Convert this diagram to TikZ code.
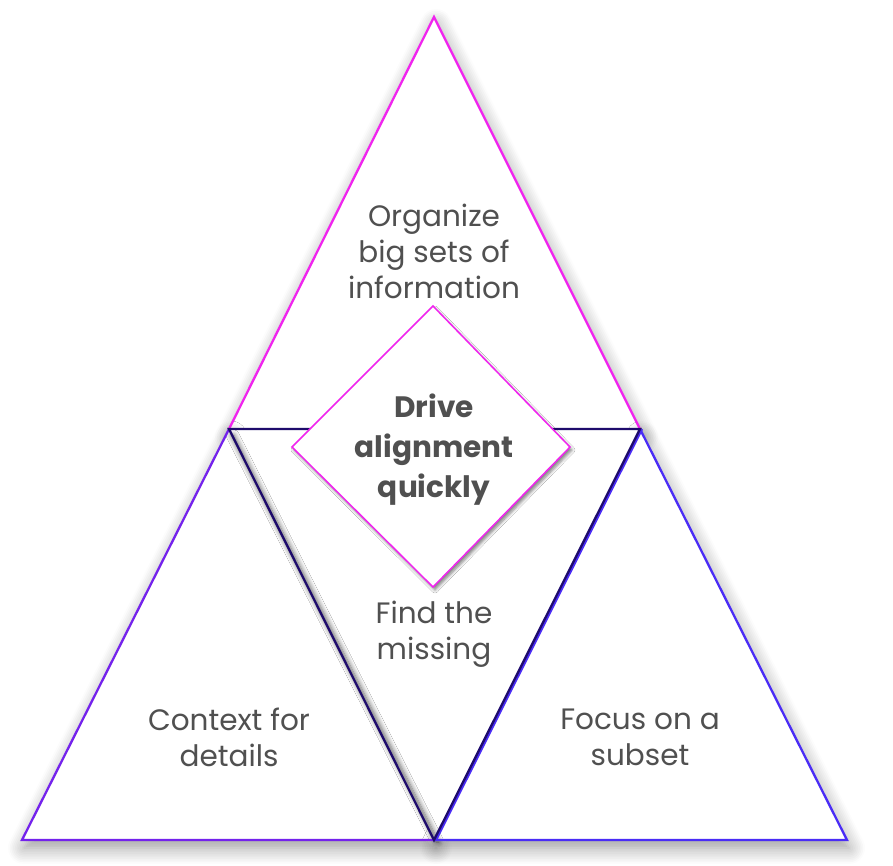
\documentclass[tikz,border=0pt]{standalone}
\usepackage{fontspec}
\setmainfont{Poppins}
\usetikzlibrary{shadows.blur}
\definecolor{magtop}{HTML}{F024EE}
\definecolor{purpleleft}{HTML}{7422EC}
\definecolor{blueright}{HTML}{4A2CF6}
\definecolor{navymid}{HTML}{1E0B6C}
\definecolor{txtgray}{HTML}{505050}
\tikzset{
  tri/.style={line width=2.3pt, line join=miter},
  triShadow/.style={fill=white, blur shadow={shadow blur steps=10, shadow xshift=2pt, shadow yshift=-8pt, shadow blur radius=16pt, shadow opacity=40}},
  lbl/.style={align=center, text=txtgray, font=\fontsize{29.5}{36}\selectfont, inner sep=0pt},
  blbl/.style={align=center, text=txtgray, font=\fontsize{29.5}{40}\selectfont\bfseries, inner sep=0pt},
  diam/.style={fill=white, draw=magtop, line width=1.5pt, blur shadow={shadow blur steps=5, shadow xshift=2pt, shadow yshift=-3pt, shadow blur radius=3pt, shadow opacity=50}}
}
\begin{document}
\begin{tikzpicture}[x=1pt,y=-1pt]
\useasboundingbox (0,0) rectangle (893,865);
% vertices
\coordinate (A) at (434,17);
\coordinate (L) at (229,429);
\coordinate (R) at (640,429);
\coordinate (BL) at (22,840);
\coordinate (BM) at (434,840);
\coordinate (BR) at (847,840);
% shadows and fills
\path[triShadow] (A) -- (L) -- (R) -- cycle;
\path[triShadow] (L) -- (BL) -- (BM) -- cycle;
\path[triShadow] (R) -- (BM) -- (BR) -- cycle;
\path[fill=white] (L) -- (R) -- (BM) -- cycle;
\path[blur shadow={shadow blur steps=8, shadow xshift=5pt, shadow yshift=-2pt, shadow blur radius=5pt, shadow opacity=60}] ([yshift=-4pt]L) -- (BM) -- ([xshift=-3pt]BM) -- ([xshift=-3pt,yshift=-4pt]L) -- cycle;
% outlines
\draw[tri, draw=magtop] (L) -- (A) -- (R);
\draw[tri, draw=purpleleft] (BM) -- (BL) -- (L);
\draw[tri, draw=blueright] (BM) -- (BR) -- (R);
\draw[tri, draw=blueright] ([xshift=2pt]R) -- ([xshift=2pt]BM);
\draw[tri, draw=navymid] (L) -- (R) -- (BM) -- cycle;
% diamond
\coordinate (DT) at (433,306);
\coordinate (DL) at (292,447);
\coordinate (DB) at (433,587);
\coordinate (DR) at (570,447);
\path[diam] (DT) -- (DR) -- (DB) -- (DL) -- cycle;
% labels
\node[lbl] (top) at (434,251) {Organize\\big sets of\\information};
\node[blbl] (center) at (434,450) {Drive\\alignment\\quickly};
\node[lbl] (mid) at (434,634) {Find the\\missing};
\node[lbl] (left) at (229,737) {Context for\\details};
\node[lbl] (right) at (640,737) {Focus on a\\subset};
\end{tikzpicture}
\end{document}
